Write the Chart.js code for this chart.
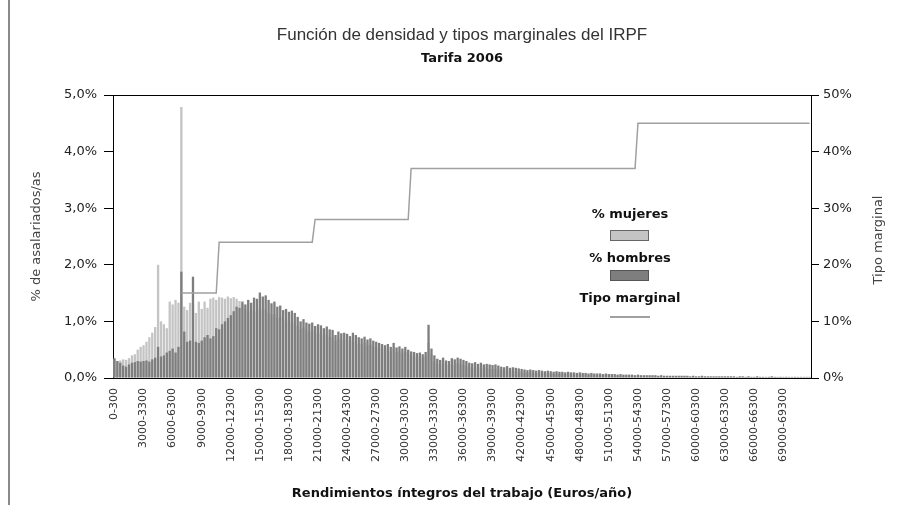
<!DOCTYPE html>
<html lang="es">
<head>
<meta charset="utf-8">
<script src="https://cdn.jsdelivr.net/npm/chart.js@4.4.1/dist/chart.umd.min.js"></script>
<style>
  html, body { margin: 0; padding: 0; background: #fff; }
</style>
</head>
<body>
<canvas id="grafico" width="898" height="505"></canvas>
<script>
// Tramos de 300 euros, de 0 a 72000
const tramos = [];
for (let i = 0; i < 240; i++) {
    tramos.push((i * 300) + '-' + ((i + 1) * 300));
}

// % de asalariadas por tramo
const mujeres = [
    0.33, 0.30, 0.31, 0.33, 0.32, 0.35, 0.40, 0.42, 0.50, 0.55,
    0.58, 0.64, 0.72, 0.80, 0.90, 2.00, 1.00, 0.95, 0.88, 1.35,
    1.30, 1.38, 1.33, 4.79, 1.26, 1.20, 1.33, 1.30, 1.15, 1.35,
    1.22, 1.35, 1.24, 1.40, 1.42, 1.38, 1.43, 1.42, 1.40, 1.44,
    1.41, 1.43, 1.40, 1.36, 1.30, 1.22, 1.18, 1.20, 1.16, 1.18,
    1.22, 1.20, 1.22, 1.15, 1.12, 1.13, 1.06, 1.08, 1.02, 1.03,
    0.99, 1.00, 0.97, 0.92, 0.86, 0.89, 0.84, 0.82, 0.84, 0.78,
    0.80, 0.79, 0.75, 0.77, 0.73, 0.72, 0.66, 0.70, 0.67, 0.68,
    0.66, 0.63, 0.67, 0.64, 0.61, 0.60, 0.62, 0.58, 0.59, 0.56,
    0.54, 0.53, 0.51, 0.49, 0.51, 0.47, 0.52, 0.46, 0.47, 0.44,
    0.46, 0.42, 0.40, 0.39, 0.37, 0.38, 0.35, 0.38, 0.62, 0.42,
    0.30, 0.25, 0.24, 0.27, 0.23, 0.22, 0.25, 0.24, 0.26, 0.24,
    0.23, 0.21, 0.19, 0.18, 0.20, 0.17, 0.19, 0.17, 0.17, 0.16,
    0.16, 0.16, 0.15, 0.14, 0.13, 0.14, 0.12, 0.13, 0.12, 0.11,
    0.11, 0.10, 0.09, 0.10, 0.09, 0.09, 0.09, 0.08, 0.08, 0.08,
    0.08, 0.07, 0.08, 0.07, 0.07, 0.07, 0.07, 0.06, 0.06, 0.06,
    0.06, 0.06, 0.06, 0.05, 0.06, 0.05, 0.05, 0.05, 0.05, 0.05,
    0.05, 0.04, 0.04, 0.04, 0.04, 0.04, 0.04, 0.04, 0.04, 0.03,
    0.03, 0.03, 0.03, 0.03, 0.03, 0.03, 0.03, 0.03, 0.03, 0.03,
    0.03, 0.03, 0.03, 0.03, 0.03, 0.03, 0.03, 0.03, 0.02, 0.03,
    0.02, 0.02, 0.03, 0.02, 0.02, 0.02, 0.02, 0.02, 0.02, 0.02,
    0.02, 0.02, 0.02, 0.02, 0.02, 0.02, 0.02, 0.02, 0.02, 0.02,
    0.02, 0.02, 0.02, 0.02, 0.01, 0.02, 0.02, 0.02, 0.01, 0.02,
    0.01, 0.02, 0.01, 0.01, 0.02, 0.01, 0.01, 0.01, 0.01, 0.01
];

// % de asalariados por tramo
const hombres = [
    0.35, 0.30, 0.27, 0.22, 0.20, 0.24, 0.27, 0.28, 0.30, 0.29,
    0.30, 0.31, 0.29, 0.33, 0.36, 0.55, 0.38, 0.40, 0.45, 0.48,
    0.52, 0.45, 0.55, 1.88, 0.82, 0.64, 0.66, 1.79, 0.64, 0.62,
    0.66, 0.72, 0.76, 0.70, 0.74, 0.88, 0.86, 0.95, 1.00, 1.06,
    1.11, 1.18, 1.26, 1.24, 1.35, 1.30, 1.38, 1.33, 1.42, 1.40,
    1.51, 1.44, 1.46, 1.38, 1.32, 1.35, 1.26, 1.28, 1.20, 1.22,
    1.17, 1.19, 1.15, 1.08, 1.00, 1.04, 0.98, 0.96, 0.98, 0.92,
    0.95, 0.93, 0.88, 0.91, 0.86, 0.85, 0.76, 0.82, 0.79, 0.80,
    0.78, 0.74, 0.80, 0.76, 0.72, 0.70, 0.73, 0.68, 0.70, 0.66,
    0.64, 0.62, 0.60, 0.58, 0.60, 0.55, 0.62, 0.54, 0.56, 0.52,
    0.55, 0.50, 0.47, 0.46, 0.44, 0.45, 0.42, 0.46, 0.94, 0.52,
    0.40, 0.34, 0.32, 0.36, 0.31, 0.30, 0.35, 0.33, 0.36, 0.34,
    0.32, 0.30, 0.27, 0.26, 0.28, 0.25, 0.27, 0.24, 0.25, 0.24,
    0.23, 0.24, 0.22, 0.20, 0.19, 0.21, 0.18, 0.19, 0.18, 0.17,
    0.16, 0.15, 0.14, 0.15, 0.14, 0.13, 0.14, 0.13, 0.12, 0.13,
    0.12, 0.11, 0.12, 0.11, 0.11, 0.10, 0.11, 0.10, 0.10, 0.09,
    0.10, 0.09, 0.09, 0.08, 0.09, 0.08, 0.08, 0.08, 0.07, 0.08,
    0.07, 0.07, 0.07, 0.06, 0.07, 0.06, 0.06, 0.06, 0.06, 0.05,
    0.06, 0.05, 0.05, 0.05, 0.05, 0.05, 0.05, 0.04, 0.05, 0.04,
    0.04, 0.04, 0.04, 0.04, 0.04, 0.04, 0.04, 0.04, 0.03, 0.04,
    0.03, 0.03, 0.04, 0.03, 0.03, 0.03, 0.03, 0.03, 0.03, 0.03,
    0.03, 0.03, 0.03, 0.03, 0.02, 0.03, 0.03, 0.02, 0.03, 0.02,
    0.02, 0.03, 0.02, 0.02, 0.02, 0.02, 0.03, 0.02, 0.02, 0.02,
    0.02, 0.02, 0.02, 0.02, 0.02, 0.02, 0.02, 0.02, 0.02, 0.02
];

// Tipo marginal (%) por tramo; null = sin tributacion
const tipoMarginal = [
    null, null, null, null, null, null, null, null, null, null,
    null, null, null, null, null, null, null, null, null, null,
    null, null, null, 15, 15, 15, 15, 15, 15, 15,
    15, 15, 15, 15, 15, 15, 24, 24, 24, 24,
    24, 24, 24, 24, 24, 24, 24, 24, 24, 24,
    24, 24, 24, 24, 24, 24, 24, 24, 24, 24,
    24, 24, 24, 24, 24, 24, 24, 24, 24, 28,
    28, 28, 28, 28, 28, 28, 28, 28, 28, 28,
    28, 28, 28, 28, 28, 28, 28, 28, 28, 28,
    28, 28, 28, 28, 28, 28, 28, 28, 28, 28,
    28, 28, 37, 37, 37, 37, 37, 37, 37, 37,
    37, 37, 37, 37, 37, 37, 37, 37, 37, 37,
    37, 37, 37, 37, 37, 37, 37, 37, 37, 37,
    37, 37, 37, 37, 37, 37, 37, 37, 37, 37,
    37, 37, 37, 37, 37, 37, 37, 37, 37, 37,
    37, 37, 37, 37, 37, 37, 37, 37, 37, 37,
    37, 37, 37, 37, 37, 37, 37, 37, 37, 37,
    37, 37, 37, 37, 37, 37, 37, 37, 37, 37,
    45, 45, 45, 45, 45, 45, 45, 45, 45, 45,
    45, 45, 45, 45, 45, 45, 45, 45, 45, 45,
    45, 45, 45, 45, 45, 45, 45, 45, 45, 45,
    45, 45, 45, 45, 45, 45, 45, 45, 45, 45,
    45, 45, 45, 45, 45, 45, 45, 45, 45, 45,
    45, 45, 45, 45, 45, 45, 45, 45, 45, 45
];

const colorMujeres = '#c4c4c4';
const colorHombres = '#7e7e7e';
const colorTipo = '#a0a0a0';

Chart.defaults.font.family = '"DejaVu Sans", sans-serif';

// Marco, leyenda vertical y titulo del eje derecho
const extras = {
    id: 'extras',
    beforeDraw(chart) {
        const ctx = chart.ctx;
        ctx.save();
        ctx.fillStyle = '#fff';
        ctx.fillRect(0, 0, chart.width, chart.height);
        ctx.strokeStyle = '#8a8a8a';
        ctx.lineWidth = 2;
        ctx.beginPath();
        ctx.moveTo(9, 0);
        ctx.lineTo(9, chart.height);
        ctx.stroke();
        ctx.restore();
    },
    afterDraw(chart) {
        const ctx = chart.ctx;
        const area = chart.chartArea;
        ctx.save();
        // borde superior del area
        ctx.strokeStyle = '#000';
        ctx.lineWidth = 1;
        ctx.beginPath();
        ctx.moveTo(area.left, area.top + 0.5);
        ctx.lineTo(area.right, area.top + 0.5);
        ctx.stroke();

        // titulo eje derecho
        ctx.fillStyle = '#444';
        ctx.font = '13px "DejaVu Sans", sans-serif';
        ctx.textAlign = 'center';
        ctx.textBaseline = 'middle';
        ctx.translate(879, 240);
        ctx.rotate(-Math.PI / 2);
        ctx.fillText('Tipo marginal', 0, 0);
        ctx.restore();

        // leyenda
        const ds = chart.data.datasets;
        ctx.save();
        ctx.font = 'bold 13px "DejaVu Sans", sans-serif';
        ctx.fillStyle = '#111';
        ctx.textAlign = 'center';
        ctx.textBaseline = 'middle';
        ctx.fillText(ds[2].label, 630, 215);
        ctx.fillText(ds[1].label, 630, 259);
        ctx.fillText(ds[0].label, 630, 299);
        ctx.lineWidth = 1;
        ctx.fillStyle = colorMujeres;
        ctx.fillRect(610.5, 230.5, 38, 10);
        ctx.strokeStyle = '#666';
        ctx.strokeRect(610.5, 230.5, 38, 10);
        ctx.fillStyle = colorHombres;
        ctx.fillRect(610.5, 270.5, 38, 10);
        ctx.strokeStyle = '#555';
        ctx.strokeRect(610.5, 270.5, 38, 10);
        ctx.strokeStyle = colorTipo;
        ctx.lineWidth = 2;
        ctx.beginPath();
        ctx.moveTo(610, 317);
        ctx.lineTo(650, 317);
        ctx.stroke();
        ctx.restore();
    }
};

const ctx = document.getElementById('grafico').getContext('2d');
const grafico = new Chart(ctx, {
    type: 'bar',
    data: {
        labels: tramos,
        datasets: [
            {
                type: 'line',
                label: 'Tipo marginal',
                data: tipoMarginal,
                yAxisID: 'y1',
                borderColor: colorTipo,
                borderWidth: 1.5,
                pointRadius: 0,
                tension: 0,
                spanGaps: false,
                order: 0
            },
            {
                // hombres delante de mujeres (barras superpuestas)
                label: '% hombres',
                data: hombres,
                backgroundColor: colorHombres,
                yAxisID: 'y',
                order: 1
            },
            {
                label: '% mujeres',
                data: mujeres,
                backgroundColor: colorMujeres,
                yAxisID: 'y',
                order: 2
            }
        ]
    },
    options: {
        responsive: false,
        animation: false,
        datasets: {
            bar: {
                grouped: false,
                categoryPercentage: 1.0,
                barPercentage: 0.8
            }
        },
        layout: {
            padding: { left: 12, right: 0, top: 0, bottom: 0 }
        },
        plugins: {
            legend: { display: false },
            tooltip: { enabled: false },
            title: {
                display: true,
                fullSize: false,
                text: 'Función de densidad y tipos marginales del IRPF',
                color: '#333',
                font: { family: '"Liberation Sans", Arial, sans-serif', size: 17, weight: 'normal' },
                padding: { top: 25, bottom: 2 }
            },
            subtitle: {
                display: true,
                fullSize: false,
                text: 'Tarifa 2006',
                color: '#111',
                font: { size: 13, weight: 'bold' },
                padding: { top: 3, bottom: 29 }
            }
        },
        scales: {
            x: {
                grid: { display: false, drawTicks: false },
                border: { display: true, color: '#000' },
                ticks: {
                    autoSkip: false,
                    minRotation: 90,
                    maxRotation: 90,
                    padding: 10,
                    color: '#333',
                    font: { size: 11 },
                    callback: function (v, i) {
                        return i % 10 === 0 ? this.getLabelForValue(v) : '';
                    }
                },
                title: {
                    display: true,
                    text: 'Rendimientos íntegros del trabajo (Euros/año)',
                    color: '#111',
                    font: { size: 13, weight: 'bold' },
                    padding: { top: 0, bottom: 4 }
                },
                afterFit: s => { s.height = 127; }
            },
            y: {
                position: 'left',
                min: 0,
                max: 5,
                grid: { drawOnChartArea: false, drawTicks: true, tickLength: 9, color: '#000' },
                border: { display: true, color: '#000' },
                ticks: {
                    stepSize: 1,
                    padding: 7,
                    color: '#222',
                    font: { size: 13 },
                    callback: v => v.toFixed(1).replace('.', ',') + '%'
                },
                title: {
                    display: true,
                    text: '% de asalariados/as',
                    color: '#444',
                    font: { size: 13 },
                    padding: { top: 17, bottom: 0 }
                },
                afterFit: s => { s.width = 101; }
            },
            y1: {
                position: 'right',
                min: 0,
                max: 50,
                grid: { drawOnChartArea: false, drawTicks: true, tickLength: 8, color: '#000' },
                border: { display: true, color: '#000' },
                ticks: {
                    stepSize: 10,
                    padding: 4,
                    color: '#222',
                    font: { size: 13 },
                    callback: v => v + '%'
                },
                afterFit: s => { s.width = 87; }
            }
        }
    },
    plugins: [extras]
});
</script>
</body>
</html>
